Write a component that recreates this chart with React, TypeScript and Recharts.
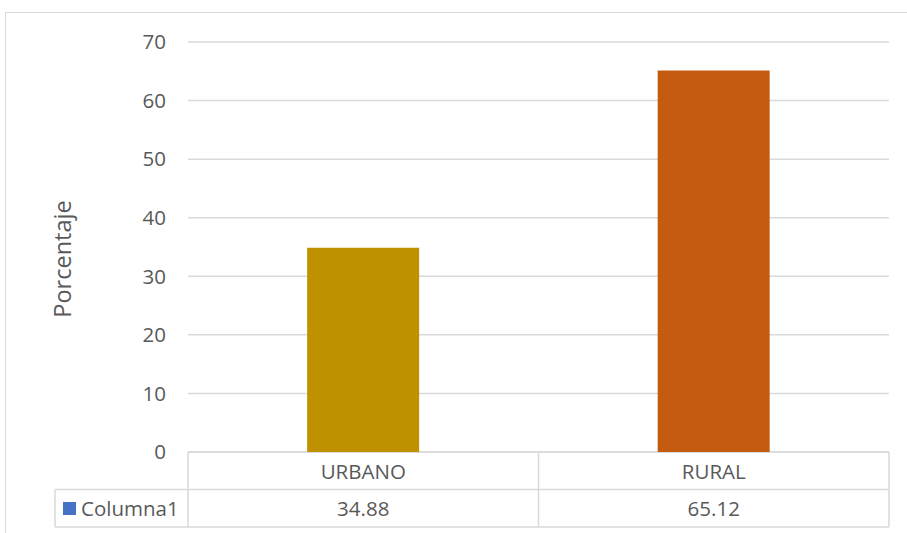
import { BarChart, Bar, XAxis, YAxis, CartesianGrid, Cell, Customized } from "recharts";

const categories = ["URBANO", "RURAL"];
const values = [34.88, 65.12];
const barColors = ["#BF9000", "#C55A11"];
const yTicks = [0, 10, 20, 30, 40, 50, 60, 70];
const seriesName = "Columna1";

const FONT = "'Open Sans', 'Noto Sans', sans-serif";
const TEXT = "#595959";
const LINE = "#d9d9d9";

// layout
const W = 907;
const H = 533;
const PLOT_L = 188;
const PLOT_R = 889;
const PLOT_B = 452;
const ROW_H = 37.5;

const data = categories.map((c, i) => ({ name: c, value: values[i] }));

function TableTick(props: any) {
  const { x, y, payload } = props;
  const i = payload.index ?? categories.indexOf(payload.value);
  return (
    <g>
      <text x={x} y={y + ROW_H / 2} textAnchor="middle" dominantBaseline="central"
        fill={TEXT} fontSize={20.5} fontFamily={FONT}>
        {payload.value}
      </text>
      <text x={x} y={y + ROW_H * 1.5} textAnchor="middle" dominantBaseline="central"
        fill={TEXT} fontSize={20.5} fontFamily={FONT}>
        {values[i].toFixed(2)}
      </text>
    </g>
  );
}

function TableFrame() {
  const band = (PLOT_R - PLOT_L) / categories.length;
  const bottom = PLOT_B + ROW_H * 2;
  return (
    <g>
      <line x1={PLOT_L} x2={PLOT_R} y1={PLOT_B} y2={PLOT_B} stroke={LINE} strokeWidth={1.5} />
      <line x1={55} x2={PLOT_R} y1={PLOT_B + ROW_H} y2={PLOT_B + ROW_H} stroke={LINE} strokeWidth={1.5} />
      <line x1={55} x2={PLOT_R} y1={bottom} y2={bottom} stroke={LINE} strokeWidth={1.5} />
      <line x1={55} x2={55} y1={PLOT_B + ROW_H} y2={bottom} stroke={LINE} strokeWidth={1.5} />
      {categories.map((_, i) => (
        <line key={i} x1={PLOT_L + band * i} x2={PLOT_L + band * i} y1={PLOT_B} y2={bottom}
          stroke={LINE} strokeWidth={1.5} />
      ))}
      <line x1={PLOT_R} x2={PLOT_R} y1={PLOT_B} y2={bottom} stroke={LINE} strokeWidth={1.5} />
      <rect x={63} y={502} width={13} height={13} fill="#4472C4" />
      <text x={81} y={PLOT_B + ROW_H * 1.5} dominantBaseline="central" fill={TEXT}
        fontSize={20.5} fontFamily={FONT}>
        {seriesName}
      </text>
      <text transform="translate(62,259) rotate(-90)" textAnchor="middle" dominantBaseline="central"
        fill={TEXT} fontSize={23.5} fontFamily={FONT}>
        Porcentaje
      </text>
    </g>
  );
}

export default function App() {
  return (
    <div style={{ position: "absolute", left: 0, top: 0, width: W, height: H, background: "#fff", overflow: "hidden" }}>
      <div style={{ position: "absolute", left: 5, top: 12, width: W, height: H, border: `1px solid ${LINE}` }} />
      <div style={{ position: "absolute", left: 0, top: 0 }}>
        <BarChart width={W} height={H} data={data}
          margin={{ top: 42, right: W - PLOT_R, bottom: 0, left: 0 }} barCategoryGap="34%">
          <CartesianGrid vertical={false} stroke={LINE} strokeWidth={1.5} />
          <YAxis width={PLOT_L} domain={[0, 70]} ticks={yTicks} axisLine={false} tickLine={false}
            tickSize={0} tickMargin={22} interval={0}
            tick={{ fill: TEXT, fontSize: 20.5, fontFamily: FONT }} />
          <XAxis dataKey="name" height={H - PLOT_B} axisLine={false} tickLine={false}
            tickSize={0} tickMargin={0} interval={0} tick={<TableTick />} />
          <Bar dataKey="value" isAnimationActive={false}>
            {data.map((d, i) => (
              <Cell key={d.name} fill={barColors[i]} />
            ))}
          </Bar>
          <Customized component={TableFrame} />
        </BarChart>
      </div>
    </div>
  );
}
